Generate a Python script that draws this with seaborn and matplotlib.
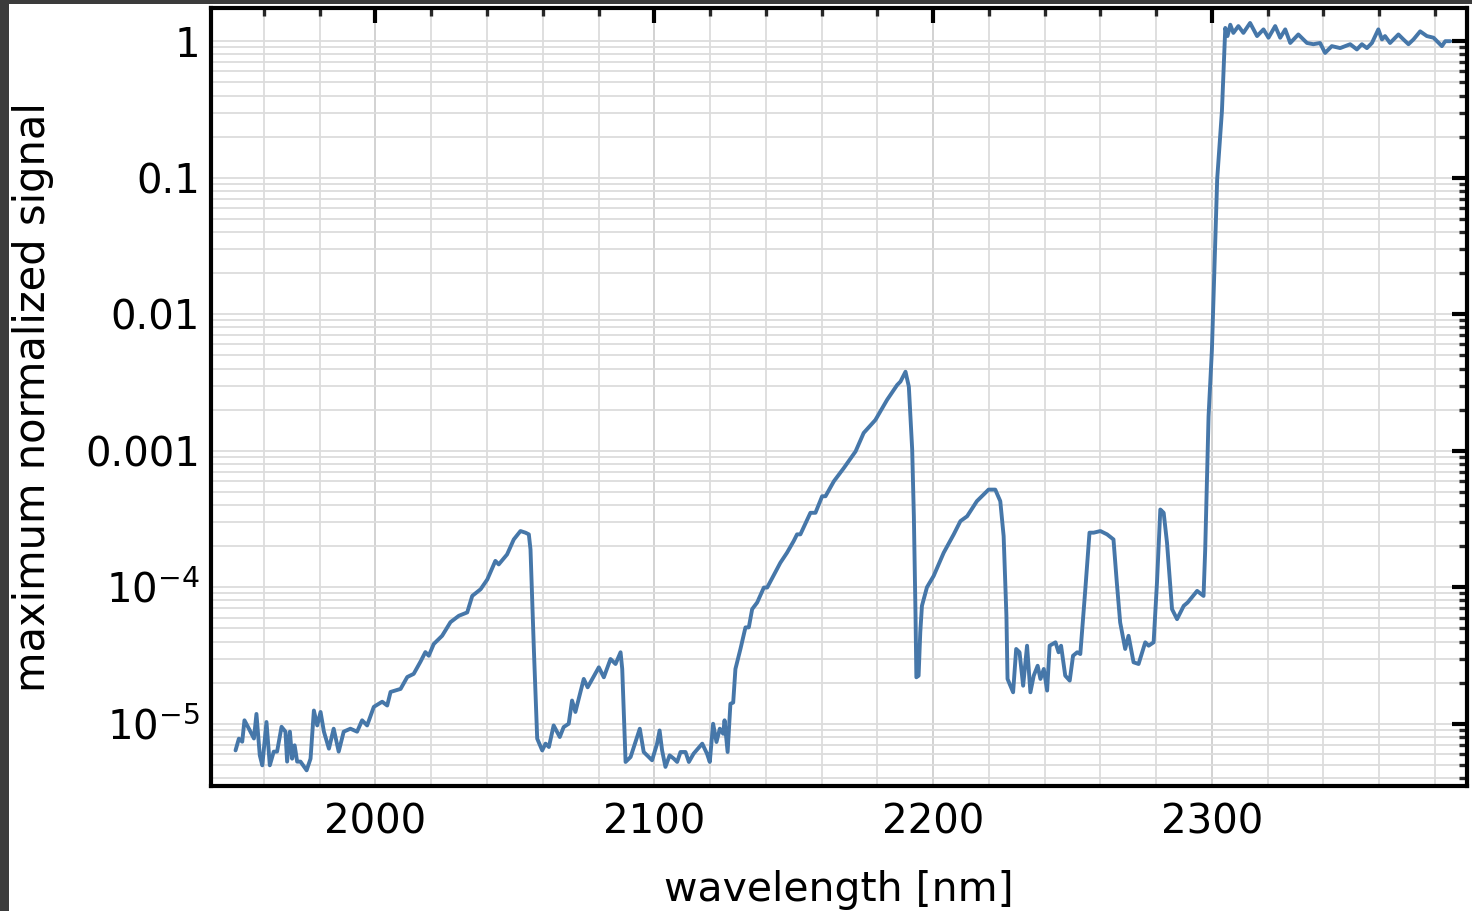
import numpy as np
import pandas as pd
import matplotlib
matplotlib.use("Agg")
import matplotlib.pyplot as plt
import matplotlib.ticker as mticker
from matplotlib.patches import Rectangle
import seaborn as sns

# ---------------- data ----------------
wavelength = [
    1949.8, 1951.0, 1952.2, 1953.0, 1954.6, 1956.4, 1957.3, 1958.5, 1959.4, 1960.9,
    1962.1, 1963.5, 1964.7, 1966.3, 1967.7, 1968.3, 1969.3, 1970.1, 1971.0, 1971.9,
    1973.1, 1975.3, 1976.7, 1977.9, 1979.1, 1980.3, 1981.5, 1983.3, 1985.0, 1986.8,
    1988.6, 1991.0, 1993.4, 1995.2, 1997.0, 1999.4, 2002.4, 2004.2, 2005.4, 2009.0,
    2011.4, 2013.7, 2016.1, 2017.9, 2019.1, 2020.9, 2023.9, 2026.9, 2029.9, 2032.9,
    2034.7, 2037.7, 2040.1, 2043.0, 2044.2, 2047.2, 2049.6, 2052.0, 2053.8, 2055.0,
    2055.6, 2056.8, 2058.0, 2059.8, 2061.0, 2062.2, 2063.9, 2066.1, 2067.5, 2069.3,
    2070.5, 2071.7, 2074.7, 2076.1, 2080.1, 2081.9, 2084.3, 2086.1, 2087.9, 2088.5,
    2089.7, 2091.5, 2094.8, 2096.2, 2099.2, 2101.0, 2101.9, 2102.8, 2104.0, 2105.5,
    2107.0, 2108.2, 2109.4, 2111.2, 2112.4, 2114.1, 2117.2, 2118.9, 2119.9, 2121.1,
    2122.3, 2123.5, 2124.7, 2125.2, 2126.3, 2127.3, 2128.3, 2129.1, 2130.9, 2132.7,
    2133.9, 2135.1, 2136.9, 2139.3, 2140.5, 2145.2, 2147.6, 2150.0, 2151.2, 2152.4,
    2156.0, 2157.8, 2160.2, 2161.4, 2164.4, 2168.0, 2172.2, 2175.1, 2179.3, 2183.5,
    2187.1, 2188.3, 2190.1, 2191.3, 2192.5, 2193.1, 2193.7, 2194.0, 2194.8, 2195.4,
    2196.0, 2197.8, 2200.2, 2203.8, 2207.4, 2209.8, 2212.2, 2215.7, 2218.1, 2219.9,
    2222.3, 2224.1, 2225.3, 2226.3, 2226.7, 2228.7, 2229.8, 2231.0, 2232.3, 2233.7,
    2234.9, 2236.1, 2237.5, 2238.5, 2239.7, 2240.9, 2241.8, 2243.9, 2245.0, 2245.9,
    2247.4, 2249.0, 2250.2, 2251.7, 2252.8, 2254.6, 2256.1, 2257.6, 2260.0, 2262.4,
    2264.7, 2265.9, 2267.1, 2268.9, 2270.1, 2271.9, 2273.7, 2276.1, 2277.3, 2279.1,
    2280.3, 2281.5, 2282.7, 2283.9, 2285.7, 2287.5, 2289.9, 2291.3, 2294.7, 2297.0,
    2297.6, 2298.8, 2300.0, 2301.9, 2303.6, 2304.8, 2305.6, 2306.6, 2307.7, 2309.5,
    2311.3, 2313.7, 2316.2, 2318.5, 2320.3, 2322.7, 2324.5, 2326.3, 2328.1, 2331.0,
    2334.1, 2336.4, 2338.8, 2340.6, 2343.0, 2346.0, 2349.6, 2352.0, 2353.8, 2355.6,
    2357.4, 2359.7, 2361.0, 2362.1, 2363.9, 2366.9, 2368.7, 2370.5, 2372.3, 2374.7,
    2377.1, 2379.5, 2382.5, 2383.7, 2385.5,
]

signal = [
    6.38e-6, 7.78e-6, 7.39e-6, 1.06e-5, 9.2e-6, 7.8e-6, 1.18e-5, 5.87e-6, 4.96e-6, 1.03e-5,
    4.96e-6, 6.25e-6, 6.25e-6, 9.5e-6, 8.75e-6, 5.28e-6, 8.75e-6, 5.55e-6, 6.95e-6, 5.28e-6,
    5.28e-6, 4.56e-6, 5.55e-6, 1.25e-5, 9.72e-6, 1.22e-5, 8.75e-6, 6.57e-6, 9.2e-6, 6.25e-6,
    8.75e-6, 9.2e-6, 8.75e-6, 1.06e-5, 9.72e-6, 1.33e-5, 1.45e-5, 1.36e-5, 1.71e-5, 1.80e-5,
    2.20e-5, 2.32e-5, 2.84e-5, 3.35e-5, 3.15e-5, 3.84e-5, 4.41e-5, 5.55e-5, 6.18e-5, 6.54e-5,
    8.64e-5, 9.67e-5, 1.14e-4, 1.56e-4, 1.47e-4, 1.74e-4, 2.24e-4, 2.58e-4, 2.51e-4, 2.44e-4,
    1.89e-4, 3.53e-5, 7.78e-6, 6.38e-6, 7.15e-6, 6.76e-6, 9.72e-6, 8.0e-6, 9.46e-6, 1.0e-5,
    1.48e-5, 1.22e-5, 2.13e-5, 1.85e-5, 2.59e-5, 2.19e-5, 2.98e-5, 2.74e-5, 3.34e-5, 2.52e-5,
    5.25e-6, 5.71e-6, 9.2e-6, 6.21e-6, 5.40e-6, 7.15e-6, 8.93e-6, 6.38e-6, 4.83e-6, 5.87e-6,
    5.55e-6, 5.25e-6, 6.21e-6, 6.21e-6, 5.25e-6, 6.04e-6, 7.15e-6, 6.04e-6, 5.25e-6, 1.0e-5,
    7.35e-6, 9.2e-6, 8.45e-6, 1.06e-5, 6.21e-6, 1.40e-5, 1.43e-5, 2.52e-5, 3.53e-5, 5.08e-5,
    5.08e-5, 6.91e-5, 7.73e-5, 9.95e-5, 9.95e-5, 1.51e-4, 1.79e-4, 2.18e-4, 2.44e-4, 2.44e-4,
    3.51e-4, 3.51e-4, 4.64e-4, 4.64e-4, 5.97e-4, 7.48e-4, 9.89e-4, 1.35e-3, 1.68e-3, 2.36e-3,
    3.03e-3, 3.21e-3, 3.79e-3, 2.95e-3, 1.02e-3, 3.31e-4, 6.18e-5, 2.19e-5, 2.25e-5, 4.67e-5,
    7.31e-5, 1.0e-4, 1.21e-4, 1.79e-4, 2.44e-4, 3.05e-4, 3.31e-4, 4.27e-4, 4.77e-4, 5.19e-4,
    5.19e-4, 4.27e-4, 2.37e-4, 6.18e-5, 2.13e-5, 1.70e-5, 3.53e-5, 3.34e-5, 1.90e-5, 3.73e-5,
    1.70e-5, 2.25e-5, 2.66e-5, 2.13e-5, 2.52e-5, 1.75e-5, 3.73e-5, 3.95e-5, 3.34e-5, 3.73e-5,
    2.25e-5, 2.07e-5, 3.15e-5, 3.34e-5, 3.24e-5, 9.67e-5, 2.51e-4, 2.51e-4, 2.58e-4, 2.44e-4,
    2.24e-4, 1.08e-4, 5.52e-5, 3.53e-5, 4.41e-5, 2.82e-5, 2.74e-5, 3.95e-5, 3.73e-5, 3.95e-5,
    1.08e-4, 3.71e-4, 3.51e-4, 2.12e-4, 6.91e-5, 5.84e-5, 7.31e-5, 7.73e-5, 9.4e-5, 8.64e-5,
    1.89e-4, 1.78e-3, 5.46e-3, 0.098, 0.308, 1.25, 1.09, 1.32, 1.15, 1.29,
    1.15, 1.36, 1.09, 1.22, 1.06, 1.29, 1.06, 1.22, 0.97, 1.12,
    0.97, 0.95, 0.97, 0.82, 0.92, 0.89, 0.95, 0.87, 0.95, 0.89,
    0.97, 1.22, 1.03, 1.09, 0.97, 1.12, 1.03, 0.95, 1.03, 1.18,
    1.09, 1.06, 0.92, 1.0, 1.0,
]

y_tick_values = [1e-5, 1e-4, 1e-3, 1e-2, 1e-1, 1]
y_tick_labels = ["$10^{-5}$", "$10^{-4}$", "0.001", "0.01", "0.1", "1"]
x_tick_values = [2000, 2100, 2200, 2300]
x_label = "wavelength [nm]"
y_label = "maximum normalized signal"

df = pd.DataFrame({"wavelength": wavelength, "signal": signal})

# ---------------- style ----------------
sns.set_style("white")
plt.rcParams["font.family"] = ["DejaVu Sans"]
plt.rcParams["mathtext.fontset"] = "dejavusans"

fig = plt.figure(figsize=(14.72, 9.11), dpi=100)
fig.patch.set_facecolor("#3b3b3b")
fig.add_artist(Rectangle((9 / 1472, 0), 1, (911 - 4) / 911,
                         transform=fig.transFigure, facecolor="white",
                         edgecolor="none", zorder=-10))

ax = fig.add_axes([211 / 1472, 1 - 786 / 911, (1467 - 211) / 1472, (786 - 8) / 911])
ax.set_facecolor("white")

sns.lineplot(data=df, x="wavelength", y="signal", ax=ax, color="#4677a9",
             linewidth=2.8, estimator=None, sort=False)

ax.set_yscale("log")
ax.set_xlim(1941, 2391.5)
ax.set_ylim(3.5e-6, 1.75)

ax.xaxis.set_major_locator(mticker.FixedLocator(x_tick_values))
ax.xaxis.set_minor_locator(mticker.MultipleLocator(20))
ax.yaxis.set_major_locator(mticker.FixedLocator(y_tick_values))
ax.yaxis.set_major_formatter(mticker.FixedFormatter(y_tick_labels))
ax.yaxis.set_minor_locator(mticker.LogLocator(base=10, subs=np.arange(2, 10), numticks=20))
ax.yaxis.set_minor_formatter(mticker.NullFormatter())

ax.grid(True, which="major", axis="x", color="#cfcfcf", linewidth=1.3)
ax.grid(True, which="minor", axis="x", color="#dcdcdc", linewidth=1.3)
ax.grid(True, which="both", axis="y", color="#dcdcdc", linewidth=1.3)
ax.set_axisbelow(True)

for s in ax.spines.values():
    s.set_linewidth(3.0)
    s.set_color("black")

ax.tick_params(which="major", direction="in", length=11, width=3, top=True, right=True,
               labelsize=29, colors="black")
ax.tick_params(axis="x", which="major", pad=12)
ax.tick_params(axis="y", which="major", pad=8)
ax.tick_params(which="minor", direction="in", length=6, width=2.4, top=True, right=True)

ax.set_xlabel(x_label, fontsize=29.5, labelpad=20, color="black")
ax.set_ylabel(y_label, fontsize=30, labelpad=22, color="black")

fig.savefig("out.png", dpi=100, facecolor=fig.get_facecolor())
